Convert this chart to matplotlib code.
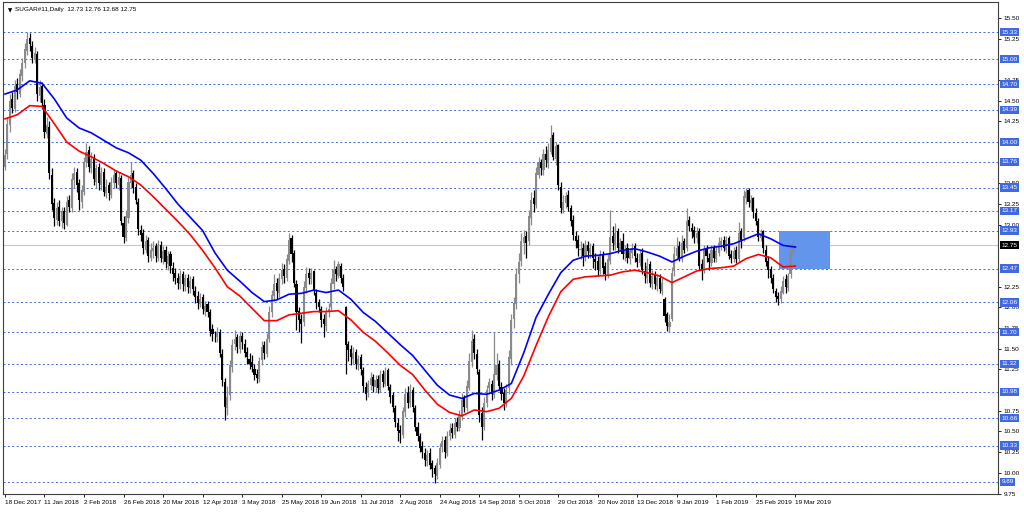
import numpy as np
import matplotlib
matplotlib.use('Agg')
import matplotlib.pyplot as plt
import matplotlib.transforms as mtransforms
from matplotlib.patches import Rectangle

plt.rcParams['font.family'] = ['Liberation Sans', 'DejaVu Sans']

# daily candles SUGAR#11, 18 Dec 2017 .. 20 Mar 2019
opens = [13.70, 13.86, 14.20, 14.52, 14.40, 14.70, 14.58, 14.80, 14.96, 15.10,
         15.26, 15.16, 15.00, 15.06, 14.56, 14.68, 14.45, 14.10, 14.18, 13.60,
         13.26, 13.06, 13.22, 13.04, 13.16, 13.00, 13.30, 13.20, 13.54, 13.64,
         13.50, 13.28, 13.40, 13.76, 13.90, 13.68, 13.82, 13.52, 13.70, 13.48,
         13.64, 13.38, 13.48, 13.36, 13.50, 13.62, 13.48, 13.56, 13.02, 12.84,
         13.08, 13.50, 13.62, 13.46, 13.28, 12.94, 12.90, 12.70, 12.82, 12.60,
         12.68, 12.74, 12.60, 12.76, 12.58, 12.70, 12.52, 12.64, 12.48, 12.42,
         12.36, 12.28, 12.40, 12.26, 12.36, 12.24, 12.34, 12.20, 12.14, 12.04,
         12.12, 11.96, 12.04, 11.94, 11.74, 11.66, 11.64, 11.70, 11.44, 11.10,
         10.78, 10.94, 11.28, 11.56, 11.64, 11.50, 11.66, 11.56, 11.46, 11.38,
         11.34, 11.26, 11.20, 11.14, 11.36, 11.54, 11.44, 11.62, 11.94, 12.14,
         12.30, 12.18, 12.34, 12.46, 12.36, 12.56, 12.84, 12.66, 12.28, 11.96,
         11.86, 11.82, 12.24, 12.42, 12.34, 12.44, 12.18, 12.06, 11.98, 11.86,
         11.78, 11.94, 12.00, 12.28, 12.46, 12.38, 12.50, 12.36, 12.00, 11.56,
         11.50, 11.38, 11.46, 11.30, 11.40, 11.24, 11.04, 10.96, 11.06, 11.16,
         11.04, 11.14, 11.00, 11.20, 11.08, 11.24, 11.04, 10.94, 10.78, 10.60,
         10.52, 10.46, 10.74, 10.96, 10.84, 11.00, 10.78, 10.56, 10.44, 10.32,
         10.24, 10.14, 10.24, 10.12, 10.06, 9.96, 10.10, 10.32, 10.40, 10.24,
         10.44, 10.54, 10.46, 10.62, 10.54, 10.68, 10.90, 10.78, 11.02, 11.34,
         11.62, 11.44, 11.22, 10.72, 10.56, 10.84, 11.02, 11.08, 10.94, 11.18,
         11.32, 11.04, 10.96, 10.84, 11.02, 11.38, 11.86, 12.04, 12.40, 12.56,
         12.78, 12.86, 12.80, 13.08, 13.32, 13.24, 13.60, 13.76, 13.66, 13.86,
         13.76, 13.88, 14.08, 13.80, 13.96, 13.46, 13.18, 13.26, 13.36, 13.20,
         13.06, 12.86, 12.82, 12.70, 12.72, 12.62, 12.76, 12.66, 12.74, 12.58,
         12.56, 12.44, 12.64, 12.50, 12.38, 12.56, 12.86, 12.76, 12.92, 12.70,
         12.80, 12.64, 12.72, 12.58, 12.66, 12.74, 12.60, 12.54, 12.66, 12.44,
         12.36, 12.52, 12.28, 12.40, 12.26, 12.36, 12.20, 12.10, 11.92, 11.76,
         11.86, 12.44, 12.62, 12.74, 12.58, 12.80, 12.72, 13.06, 12.96, 12.94,
         12.84, 12.92, 12.52, 12.46, 12.72, 12.60, 12.54, 12.72, 12.58, 12.66,
         12.76, 12.82, 12.70, 12.84, 12.64, 12.58, 12.70, 12.58, 12.92, 12.84,
         13.32, 13.42, 13.26, 13.32, 13.14, 13.04, 12.84, 12.92, 12.70, 12.56,
         12.46, 12.36, 12.20, 12.14, 12.10, 12.18, 12.34, 12.24, 12.40, 12.68,
         12.73]
highs = [13.92, 14.30, 14.58, 14.60, 14.75, 14.78, 14.88, 15.02, 15.20, 15.33,
         15.32, 15.22, 15.15, 15.10, 14.75, 14.72, 14.52, 14.30, 14.25, 13.68,
         13.32, 13.28, 13.30, 13.22, 13.22, 13.35, 13.36, 13.62, 13.70, 13.68,
         13.55, 13.48, 13.82, 13.99, 13.95, 13.88, 13.86, 13.74, 13.75, 13.70,
         13.68, 13.55, 13.52, 13.58, 13.66, 13.66, 13.64, 13.60, 13.10, 13.18,
         13.58, 13.76, 13.66, 13.50, 13.32, 13.00, 12.95, 12.88, 12.85, 12.78,
         12.80, 12.78, 12.82, 12.80, 12.74, 12.74, 12.68, 12.68, 12.55, 12.48,
         12.42, 12.45, 12.44, 12.40, 12.40, 12.38, 12.38, 12.26, 12.20, 12.18,
         12.16, 12.08, 12.08, 11.98, 11.80, 11.72, 11.76, 11.74, 11.50, 11.15,
         11.05, 11.36, 11.62, 11.73, 11.68, 11.72, 11.70, 11.62, 11.52, 11.45,
         11.42, 11.32, 11.26, 11.40, 11.60, 11.60, 11.69, 12.02, 12.21, 12.40,
         12.36, 12.42, 12.54, 12.52, 12.65, 12.90, 12.88, 12.70, 12.33, 12.00,
         11.92, 12.32, 12.49, 12.48, 12.48, 12.45, 12.22, 12.10, 12.02, 11.92,
         12.00, 12.05, 12.36, 12.57, 12.50, 12.56, 12.54, 12.40, 12.02, 11.60,
         11.55, 11.52, 11.50, 11.42, 11.44, 11.28, 11.10, 11.12, 11.22, 11.20,
         11.18, 11.18, 11.24, 11.24, 11.28, 11.27, 11.08, 10.98, 10.82, 10.66,
         10.58, 10.80, 11.02, 11.05, 11.08, 11.04, 10.82, 10.62, 10.48, 10.38,
         10.30, 10.28, 10.30, 10.15, 10.10, 10.18, 10.36, 10.45, 10.44, 10.50,
         10.60, 10.60, 10.66, 10.67, 10.76, 10.96, 10.94, 11.12, 11.45, 11.73,
         11.68, 11.50, 11.25, 10.80, 10.92, 11.06, 11.15, 11.12, 11.70, 11.45,
         11.36, 11.10, 11.02, 11.08, 11.48, 11.92, 12.12, 12.48, 12.66, 12.90,
         12.94, 12.92, 13.18, 13.40, 13.42, 13.70, 13.82, 13.80, 13.92, 13.95,
         13.99, 14.20, 14.12, 14.00, 13.98, 13.52, 13.36, 13.40, 13.42, 13.24,
         13.12, 12.92, 12.88, 12.80, 12.78, 12.81, 12.80, 12.78, 12.78, 12.66,
         12.62, 12.70, 12.68, 12.55, 12.64, 13.18, 12.98, 13.02, 12.96, 12.84,
         12.90, 12.76, 12.78, 12.72, 12.78, 12.78, 12.66, 12.70, 12.72, 12.55,
         12.60, 12.56, 12.45, 12.44, 12.40, 12.40, 12.36, 12.12, 11.95, 11.92,
         12.49, 12.74, 12.85, 12.80, 12.88, 12.84, 13.20, 13.10, 13.02, 12.98,
         12.97, 12.96, 12.58, 12.76, 12.76, 12.66, 12.76, 12.76, 12.74, 12.85,
         12.85, 12.86, 12.86, 12.86, 12.70, 12.73, 12.74, 13.03, 12.96, 13.42,
         13.45, 13.44, 13.36, 13.34, 13.20, 13.08, 12.95, 12.94, 12.75, 12.62,
         12.50, 12.40, 12.24, 12.19, 12.26, 12.38, 12.40, 12.42, 12.76, 12.84,
         12.76]
lows = [13.66, 13.80, 14.12, 14.35, 14.36, 14.52, 14.55, 14.74, 14.90, 15.05,
        15.10, 14.95, 14.96, 14.50, 14.48, 14.40, 14.05, 14.05, 13.55, 13.18,
        12.98, 13.00, 12.98, 12.96, 12.95, 12.98, 13.15, 13.15, 13.45, 13.40,
        13.18, 13.20, 13.36, 13.70, 13.64, 13.62, 13.48, 13.45, 13.42, 13.42,
        13.35, 13.32, 13.30, 13.32, 13.45, 13.45, 13.42, 13.00, 12.78, 12.80,
        13.02, 13.45, 13.38, 13.25, 12.88, 12.80, 12.65, 12.66, 12.55, 12.56,
        12.60, 12.55, 12.56, 12.55, 12.52, 12.48, 12.45, 12.42, 12.32, 12.28,
        12.22, 12.22, 12.20, 12.20, 12.18, 12.18, 12.15, 12.05, 11.98, 12.00,
        11.92, 11.90, 11.88, 11.65, 11.60, 11.58, 11.58, 11.40, 11.05, 10.64,
        10.70, 10.88, 11.22, 11.48, 11.45, 11.45, 11.50, 11.40, 11.32, 11.26,
        11.22, 11.12, 11.09, 11.10, 11.30, 11.38, 11.40, 11.58, 11.88, 12.08,
        12.10, 12.12, 12.28, 12.30, 12.32, 12.52, 12.55, 12.25, 11.73, 11.70,
        11.57, 11.78, 12.18, 12.28, 12.28, 12.15, 11.98, 11.94, 11.76, 11.64,
        11.72, 11.88, 11.97, 12.22, 12.32, 12.36, 12.30, 12.20, 11.20, 11.35,
        11.30, 11.32, 11.26, 11.24, 11.18, 10.98, 10.88, 10.92, 11.00, 10.98,
        10.98, 10.96, 10.98, 11.04, 11.05, 11.00, 10.85, 10.74, 10.55, 10.38,
        10.36, 10.42, 10.68, 10.78, 10.80, 10.74, 10.50, 10.38, 10.25, 10.18,
        10.08, 10.08, 10.05, 9.95, 9.88, 9.92, 10.06, 10.25, 10.18, 10.20,
        10.40, 10.42, 10.42, 10.50, 10.50, 10.64, 10.74, 10.75, 11.00, 11.28,
        11.38, 11.20, 10.62, 10.40, 10.52, 10.80, 10.95, 10.88, 10.90, 11.12,
        11.00, 10.88, 10.76, 10.80, 10.95, 11.30, 11.75, 11.98, 12.30, 12.50,
        12.65, 12.60, 12.76, 13.00, 13.15, 13.20, 13.56, 13.60, 13.60, 13.70,
        13.69, 13.85, 13.78, 13.72, 13.42, 13.14, 13.14, 13.20, 13.16, 12.98,
        12.82, 12.72, 12.62, 12.58, 12.50, 12.56, 12.60, 12.60, 12.48, 12.45,
        12.38, 12.40, 12.40, 12.33, 12.36, 12.52, 12.70, 12.70, 12.66, 12.68,
        12.58, 12.56, 12.54, 12.52, 12.60, 12.55, 12.49, 12.50, 12.40, 12.30,
        12.30, 12.25, 12.22, 12.22, 12.20, 12.17, 12.15, 11.82, 11.72, 11.70,
        11.84, 12.38, 12.57, 12.56, 12.55, 12.66, 12.68, 12.92, 12.84, 12.78,
        12.78, 12.45, 12.33, 12.42, 12.55, 12.45, 12.50, 12.55, 12.55, 12.62,
        12.70, 12.68, 12.66, 12.58, 12.54, 12.55, 12.54, 12.55, 12.72, 12.80,
        13.25, 13.22, 13.18, 13.08, 13.00, 12.80, 12.80, 12.66, 12.50, 12.36,
        12.30, 12.18, 12.06, 12.03, 12.05, 12.16, 12.18, 12.20, 12.36, 12.62,
        12.68]
closes = [13.84, 14.22, 14.50, 14.41, 14.68, 14.60, 14.82, 14.95, 15.12, 15.25,
          15.18, 15.02, 15.08, 14.58, 14.66, 14.47, 14.12, 14.20, 13.62, 13.25,
          13.08, 13.20, 13.05, 13.15, 13.02, 13.28, 13.22, 13.55, 13.62, 13.48,
          13.30, 13.42, 13.75, 13.88, 13.70, 13.80, 13.55, 13.68, 13.50, 13.62,
          13.40, 13.46, 13.38, 13.52, 13.60, 13.50, 13.58, 13.05, 12.85, 13.10,
          13.52, 13.60, 13.45, 13.30, 12.95, 12.88, 12.72, 12.80, 12.62, 12.70,
          12.72, 12.62, 12.75, 12.60, 12.68, 12.55, 12.62, 12.50, 12.40, 12.35,
          12.30, 12.38, 12.28, 12.35, 12.25, 12.32, 12.22, 12.12, 12.05, 12.10,
          11.98, 12.02, 11.95, 11.72, 11.68, 11.65, 11.70, 11.45, 11.12, 10.80,
          10.92, 11.30, 11.55, 11.62, 11.52, 11.65, 11.58, 11.45, 11.40, 11.32,
          11.28, 11.18, 11.15, 11.35, 11.52, 11.45, 11.62, 11.95, 12.15, 12.28,
          12.20, 12.35, 12.45, 12.38, 12.58, 12.82, 12.65, 12.30, 11.95, 11.85,
          11.80, 12.25, 12.40, 12.35, 12.42, 12.20, 12.05, 12.00, 11.85, 11.80,
          11.95, 11.98, 12.30, 12.45, 12.40, 12.52, 12.35, 12.25, 11.55, 11.48,
          11.40, 11.45, 11.32, 11.38, 11.25, 11.05, 10.95, 11.08, 11.15, 11.05,
          11.12, 11.02, 11.18, 11.10, 11.22, 11.05, 10.92, 10.80, 10.62, 10.50,
          10.48, 10.75, 10.95, 10.85, 10.98, 10.80, 10.55, 10.45, 10.30, 10.25,
          10.15, 10.22, 10.10, 10.05, 9.98, 10.12, 10.30, 10.38, 10.25, 10.45,
          10.52, 10.48, 10.60, 10.55, 10.70, 10.88, 10.80, 11.05, 11.35, 11.60,
          11.45, 11.25, 10.70, 10.55, 10.85, 11.00, 11.10, 10.95, 11.20, 11.30,
          11.05, 10.95, 10.85, 11.00, 11.40, 11.85, 12.05, 12.40, 12.55, 12.80,
          12.85, 12.78, 13.10, 13.30, 13.25, 13.62, 13.75, 13.68, 13.85, 13.78,
          13.90, 14.05, 13.82, 13.95, 13.48, 13.20, 13.28, 13.35, 13.22, 13.05,
          12.88, 12.80, 12.72, 12.70, 12.62, 12.75, 12.68, 12.72, 12.60, 12.55,
          12.45, 12.62, 12.48, 12.40, 12.58, 12.85, 12.78, 12.90, 12.72, 12.78,
          12.65, 12.70, 12.60, 12.68, 12.72, 12.62, 12.55, 12.65, 12.45, 12.38,
          12.50, 12.30, 12.38, 12.28, 12.35, 12.22, 12.30, 11.90, 11.78, 11.82,
          12.42, 12.65, 12.72, 12.60, 12.78, 12.70, 13.05, 12.98, 12.92, 12.85,
          12.90, 12.50, 12.45, 12.70, 12.62, 12.55, 12.70, 12.60, 12.68, 12.78,
          12.80, 12.72, 12.82, 12.62, 12.60, 12.68, 12.58, 12.90, 12.82, 13.35,
          13.40, 13.28, 13.30, 13.15, 13.05, 12.85, 12.90, 12.72, 12.55, 12.45,
          12.35, 12.22, 12.12, 12.10, 12.20, 12.32, 12.25, 12.38, 12.70, 12.78,
          12.75]

# moving averages read every 5 bars
ma_step = 5
ma_blue = [14.58, 14.63, 14.74, 14.71, 14.52, 14.29, 14.17, 14.11, 14.02, 13.93,
           13.87, 13.78, 13.62, 13.44, 13.25, 13.09, 12.93, 12.66, 12.45, 12.32,
           12.18, 12.07, 12.09, 12.16, 12.17, 12.21, 12.18, 12.21, 12.10, 11.94,
           11.83, 11.69, 11.55, 11.42, 11.24, 11.06, 10.94, 10.90, 10.96, 10.95,
           11.00, 11.08, 11.45, 11.88, 12.16, 12.42, 12.57, 12.62, 12.63, 12.65,
           12.69, 12.71, 12.67, 12.62, 12.55, 12.62, 12.68, 12.72, 12.74, 12.77,
           12.83, 12.89, 12.83, 12.75, 12.73]
ma_red = [14.28, 14.33, 14.44, 14.43, 14.22, 14.00, 13.89, 13.82, 13.74, 13.65,
          13.58, 13.48, 13.34, 13.19, 13.04, 12.88, 12.69, 12.48, 12.25, 12.14,
          11.99, 11.84, 11.84, 11.91, 11.93, 11.95, 11.95, 11.96, 11.85, 11.70,
          11.59, 11.45, 11.30, 11.19, 11.00, 10.83, 10.73, 10.69, 10.76, 10.74,
          10.78, 10.90, 11.17, 11.54, 11.89, 12.19, 12.34, 12.37, 12.38, 12.39,
          12.43, 12.45, 12.42, 12.38, 12.30, 12.37, 12.44, 12.47, 12.48, 12.50,
          12.59, 12.64, 12.60, 12.49, 12.50]

levels = [15.33, 15.00, 14.70, 14.39, 14.00, 13.76, 13.45, 13.17, 12.93,
          12.47, 12.06, 11.70, 11.32, 10.98, 10.66, 10.33, 9.89]
last_price = 12.75
box_bars = (313.5, 334)
box_prices = (12.47, 12.93)

date_labels = ['18 Dec 2017', '11 Jan 2018', '2 Feb 2018', '26 Feb 2018', '20 Mar 2018',
               '12 Apr 2018', '3 May 2018', '25 May 2018', '19 Jun 2018', '11 Jul 2018',
               '2 Aug 2018', '24 Aug 2018', '14 Sep 2018', '5 Oct 2018', '29 Oct 2018',
               '20 Nov 2018', '13 Dec 2018', '9 Jan 2019', '1 Feb 2019', '25 Feb 2019',
               '19 Mar 2019']
label_step = 16
# price scale labels (those fully hidden behind a level box are left out)
price_ticks = [9.75, 10.00, 10.25, 10.50, 10.75, 11.25, 11.50, 11.75, 12.00,
               12.25, 13.00, 13.25, 13.50, 14.25, 14.50, 14.75, 15.25, 15.50]

o = np.array(opens)
h = np.array(highs)
l = np.array(lows)
c = np.array(closes)
idx = np.arange(len(c))
up = c >= o

fig = plt.figure(figsize=(10.24, 5.13), dpi=100)
ax = fig.add_axes([3/1024, 19/513, 995/1024, 492/513])
ax.set_xlim(-0.8, 402)
ax.set_ylim(9.744, 15.693)

blue_lvl = '#4169e1'
for lv in levels:
    ax.axhline(lv, color=blue_lvl, lw=0.7, ls=(0, (2, 2.5)), zorder=1)
ax.axhline(last_price, color='#c8c8c8', lw=0.8, zorder=1)

ax.add_patch(Rectangle((box_bars[0], box_prices[0]), box_bars[1] - box_bars[0],
                       box_prices[1] - box_prices[0], color='#6495ed', lw=0, zorder=1.5))

cols = np.where(up, '#8a8a8a', '#000000')
ax.vlines(idx, l, h, colors=cols, lw=0.9, zorder=2)
ax.bar(idx, np.maximum(np.abs(c - o), 0.01), bottom=np.minimum(o, c), width=0.85,
       color=cols, lw=0, zorder=2)

ma_x = np.arange(len(ma_blue)) * ma_step
ax.plot(ma_x, ma_blue, color='#0000ff', lw=1.2, zorder=3)
ax.plot(ma_x, ma_red, color='#ff0000', lw=1.2, zorder=3)

# right price scale
ax.yaxis.tick_right()
ax.set_yticks(price_ticks)
ax.set_yticklabels([f'{v:.2f}' for v in price_ticks])
ax.tick_params(axis='y', labelsize=4.6, length=2, pad=2, width=0.6)

tr = mtransforms.blended_transform_factory(ax.transAxes, ax.transData)
for lv in levels:
    ax.text(1.0035, lv, f'{lv:.2f}', transform=tr, fontsize=4.6, color='white',
            va='center', ha='left', zorder=6, clip_on=False,
            bbox=dict(boxstyle='square,pad=0.25', fc=blue_lvl, ec='none'))
ax.text(1.0035, last_price, f'{last_price:.2f}', transform=tr, fontsize=4.6, color='white',
        va='center', ha='left', zorder=6, clip_on=False,
        bbox=dict(boxstyle='square,pad=0.25', fc='black', ec='none'))

# date scale
ax.set_xticks(np.arange(len(date_labels)) * label_step)
ax.set_xticklabels(date_labels, ha='left')
ax.tick_params(axis='x', labelsize=4.6, length=2, pad=2, width=0.6)

for s in ax.spines.values():
    s.set_color('#404040')
    s.set_linewidth(0.8)

ax.text(0.005, 0.988, '\u25bc', transform=ax.transAxes, fontsize=4, va='top', ha='left',
        family='DejaVu Sans', zorder=6)
ax.text(0.012, 0.99, 'SUGAR#11,Daily  12.73 12.76 12.68 12.75', transform=ax.transAxes,
        fontsize=4.6, va='top', ha='left', zorder=6)

fig.savefig('out.png', dpi=100)
